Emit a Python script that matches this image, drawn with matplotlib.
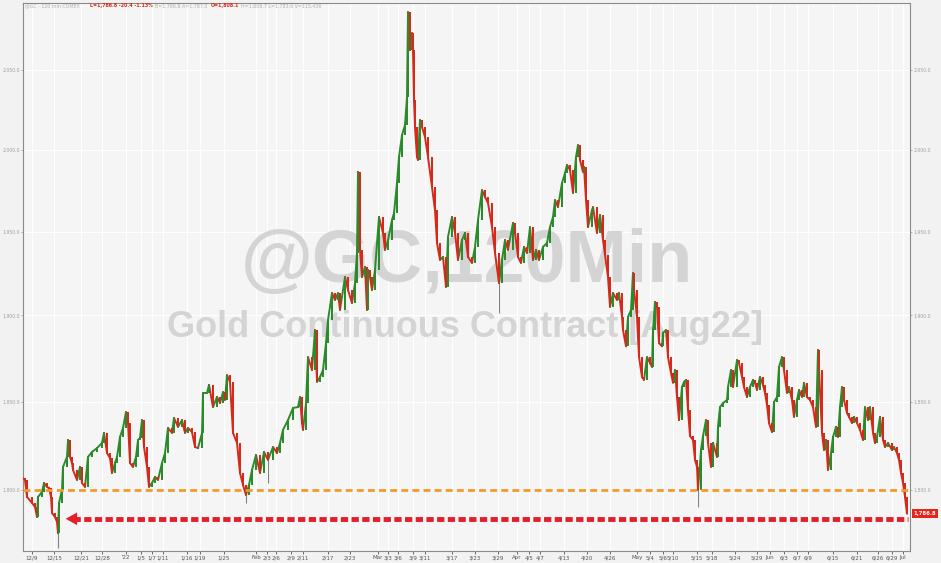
import matplotlib
matplotlib.use("Agg")
import matplotlib.pyplot as plt
from matplotlib.collections import LineCollection
from matplotlib.ticker import FixedLocator, FuncFormatter, NullLocator
import numpy as np

# trading-time position (120-min bars, compressed) and closing prices, Aug22 gold
bars = [
    0, 2, 4, 9, 12, 14, 15, 19, 21, 24, 26, 28, 29, 32, 34, 35, 36, 39, 40, 44,
    45, 47, 49, 50, 54, 57, 59, 62, 65, 69, 74, 79, 81, 84, 87, 89, 92, 94, 97, 100,
    103, 105, 107, 110, 113, 115, 117, 119, 121, 124, 126, 129, 132, 135, 139, 142, 145, 149, 151, 155,
    159, 162, 165, 169, 172, 175, 179, 180, 184, 186, 190, 194, 197, 200, 202, 204, 207, 210, 214, 217,
    220, 223, 226, 229, 233, 237, 241, 245, 250, 254, 257, 260, 265, 270, 275, 277, 279, 280, 283, 285,
    289, 292, 294, 297, 300, 303, 305, 309, 312, 315, 317, 322, 325, 329, 332, 334, 335, 337, 339, 342,
    344, 345, 347, 349, 352, 356, 360, 362, 365, 369, 371, 374, 376, 379, 382, 384, 385, 387, 389, 390,
    391, 392, 394, 395, 397, 399, 402, 405, 409, 412, 414, 417, 420, 423, 425, 429, 432, 435, 439, 442,
    445, 449, 452, 455, 459, 462, 465, 469, 472, 476, 479, 482, 485, 490, 492, 495, 498, 501, 504, 507,
    510, 513, 516, 520, 524, 527, 530, 532, 535, 539, 542, 544, 547, 550, 553, 555, 557, 560, 561, 563,
    565, 569, 570, 574, 577, 580, 582, 585, 587, 590, 594, 596, 599, 600, 603, 605, 608, 610, 611, 614,
    616, 619, 621, 624, 627, 629, 630, 632, 634, 636, 639, 640, 643, 645, 648, 650, 652, 654, 656, 659,
    661, 663, 665, 667, 670, 672, 674, 675, 678, 680, 683, 685, 688, 690, 694, 695, 697, 700, 704, 705,
    708, 710, 714, 716, 719, 721, 724, 727, 730, 732, 734, 737, 740, 742, 744, 746, 749, 751, 754, 756,
    759, 761, 764, 766, 769, 771, 774, 776, 779, 781, 784, 787, 790, 793, 795, 796, 799, 801, 803, 805,
    808, 810, 813, 815, 817, 819, 821, 824, 826, 829, 831, 834, 837, 840, 842, 845, 847, 850, 852, 854,
    857, 860, 862, 865, 869, 871, 874, 876, 878, 880, 882, 884,
]
closes = [
    1806.7, 1805.6, 1796.1, 1792.8, 1790.6, 1785.0, 1796.1, 1798.9, 1803.9, 1801.7,
    1801.1, 1796.1, 1787.2, 1785.0, 1782.3, 1776.1, 1792.8, 1800.0, 1812.9, 1818.5,
    1828.1, 1818.5, 1815.1, 1811.2, 1805.6, 1812.9, 1803.9, 1801.7, 1818.5, 1821.3,
    1823.5, 1826.4, 1832.1, 1820.7, 1817.9, 1809.5, 1815.1, 1818.5, 1829.8, 1834.9,
    1844.0, 1837.7, 1815.1, 1812.9, 1818.5, 1828.1, 1829.2, 1839.4, 1824.1, 1812.9,
    1801.7, 1803.9, 1807.3, 1805.6, 1815.1, 1820.7, 1834.9, 1832.1, 1840.6, 1835.5,
    1839.4, 1832.1, 1834.9, 1832.6, 1824.1, 1823.5, 1832.1, 1854.9, 1854.9, 1859.5,
    1846.8, 1852.6, 1849.1, 1855.4, 1850.9, 1865.2, 1861.2, 1832.1, 1826.4, 1809.5,
    1802.8, 1797.2, 1802.8, 1811.2, 1819.6, 1809.5, 1821.3, 1816.8, 1824.1, 1820.7,
    1826.4, 1833.8, 1839.4, 1846.3, 1846.8, 1852.6, 1837.7, 1833.8, 1849.1, 1875.6,
    1868.1, 1891.4, 1861.3, 1864.1, 1868.1, 1883.8, 1897.3, 1913.2, 1909.1, 1913.2,
    1903.2, 1922.7, 1915.0, 1907.3, 1919.1, 1937.1, 1986.3, 1938.9, 1922.7, 1928.7,
    1903.2, 1926.9, 1922.7, 1915.0, 1926.9, 1958.8, 1949.1, 1938.9, 1944.9, 1957.0,
    1961.2, 1979.5, 1995.5, 2009.1, 2015.4, 2032.9, 2087.1, 2062.7, 2073.6, 2062.7,
    2031.0, 2014.1, 1995.5, 1993.7, 2018.5, 2014.1, 2007.9, 1995.5, 1977.0, 1963.0,
    1943.1, 1932.9, 1934.7, 1916.8, 1946.7, 1958.8, 1949.1, 1932.9, 1944.9, 1949.1,
    1934.7, 1931.1, 1940.7, 1957.0, 1975.2, 1970.9, 1967.3, 1952.7, 1937.1, 1919.1,
    1932.9, 1944.9, 1938.9, 1955.2, 1949.1, 1934.7, 1931.1, 1940.7, 1937.1, 1952.7,
    1932.9, 1938.9, 1932.9, 1940.7, 1943.1, 1952.7, 1958.8, 1969.1, 1964.8, 1979.5,
    1985.6, 1990.6, 1987.5, 1973.4, 1995.5, 2002.9, 1993.7, 1986.3, 1989.4, 1969.1,
    1952.7, 1963.0, 1964.8, 1949.1, 1960.0, 1944.9, 1935.9, 1922.7, 1905.0, 1913.2,
    1909.1, 1913.2, 1899.1, 1891.4, 1881.9, 1899.1, 1903.2, 1925.1, 1915.0, 1899.1,
    1875.6, 1864.1, 1862.4, 1875.6, 1872.2, 1869.9, 1891.4, 1907.9, 1905.0, 1883.8,
    1881.9, 1889.7, 1891.4, 1875.6, 1866.4, 1860.8, 1868.1, 1852.6, 1839.4, 1858.3,
    1861.2, 1862.4, 1845.1, 1830.3, 1828.1, 1816.8, 1812.9, 1800.0, 1822.4, 1830.3,
    1839.4, 1826.4, 1812.9, 1826.4, 1818.5, 1835.5, 1846.8, 1849.1, 1850.9, 1858.3,
    1868.1, 1858.3, 1873.9, 1872.2, 1864.1, 1858.3, 1852.6, 1858.3, 1862.4, 1860.7,
    1856.6, 1864.1, 1859.5, 1854.9, 1848.0, 1837.7, 1832.6, 1849.7, 1852.6, 1869.9,
    1875.6, 1868.1, 1854.9, 1858.3, 1850.9, 1841.2, 1850.9, 1856.6, 1852.6, 1860.7,
    1852.6, 1850.9, 1846.8, 1835.5, 1879.7, 1868.1, 1832.1, 1822.4, 1828.1, 1811.2,
    1820.7, 1829.8, 1835.5, 1829.8, 1846.8, 1858.3, 1850.9, 1843.4, 1841.2, 1837.7,
    1841.2, 1837.7, 1833.8, 1828.1, 1846.8, 1839.4, 1846.8, 1832.1, 1826.4, 1829.8,
    1841.2, 1828.1, 1824.1, 1826.4, 1822.4, 1824.1, 1820.7, 1816.8, 1809.5, 1803.9,
    1796.1, 1786.8,
]
# a few long lower wicks
wick_bars = [35, 223, 245, 476, 675]
wick_lows = [1767.9, 1792.8, 1803.9, 1901.4, 1790.6]

support_level = 1800.0
last_level = 1784.0
last_price = 1786.8

price_ticks = [1800, 1850, 1900, 1950, 2000, 2050]
date_pos = [9, 31, 58, 79, 103, 118, 129, 140, 164, 177, 201, 233, 244, 253, 268, 280,
            305, 327, 355, 365, 375, 390, 402, 429, 452, 475, 494, 506, 517, 541, 564,
            587, 614, 627, 640, 650, 674, 689, 712, 734, 747, 761, 774, 785, 810, 834,
            855, 869, 880]
date_labels = ["12/9", "12/15", "12/21", "12/28", "'22", "1/5", "1/7", "1/11", "1/16",
               "1/19", "1/25", "Feb", "2/3", "2/6", "2/9", "2/11", "2/17", "2/23", "Mar",
               "3/3", "3/6", "3/9", "3/11", "3/17", "3/23", "3/29", "Apr", "4/5", "4/7",
               "4/13", "4/20", "4/26", "May", "5/4", "5/6", "5/10", "5/15", "5/18", "5/24",
               "5/29", "Jun", "6/3", "6/7", "6/9", "6/15", "6/21", "6/26", "6/29", "Jul"]

UP = "#2b8a2b"
DOWN = "#d42a1c"
LABEL = "#a0a0a0"


def main() -> None:
    fig = plt.figure(figsize=(9.41, 5.63), dpi=100, facecolor="#f2f2f2")
    ax = fig.add_axes([23 / 941, 12 / 563, 887 / 941, 548 / 563])
    ax.set_facecolor("#f5f5f5")
    ax.set_yscale("log")

    b = np.array(bars, dtype=float)
    c = np.array(closes)
    o = np.r_[c[0], c[:-1]]
    colors = np.where(c >= o, UP, DOWN)

    ax.vlines(wick_bars, wick_lows, [c[bars.index(w)] for w in wick_bars],
              color="#808080", linewidth=0.8, zorder=3)
    # price path, each move coloured by direction, plus thin candle bodies
    segs = np.stack([np.column_stack([b[:-1], c[:-1]]),
                     np.column_stack([b[1:], c[1:]])], axis=1)
    ax.add_collection(LineCollection(segs, colors=colors[1:], linewidths=1.4, zorder=4,
                                     capstyle="round"))
    ax.bar(b[1:], (c - o)[1:], bottom=o[1:], width=1.1, color=colors[1:], linewidth=0,
           zorder=4)

    # watermark
    ax.text(0.5006, 0.527, "@GC,120Min", transform=ax.transAxes, ha="center",
            va="center", fontsize=53, fontweight="bold", family="Liberation Sans",
            color="#d4d4d4", zorder=1)
    ax.text(0.498, 0.407, "Gold Continuous Contract [Aug22]", transform=ax.transAxes,
            ha="center", va="center", fontsize=26, fontweight="bold",
            family="Liberation Sans", color="#d4d4d4", zorder=1)

    # support line and last-price arrow
    ax.axhline(support_level, color="#f39a2b", linewidth=2.0, dashes=(2.5, 1.5), zorder=5)
    ax.plot([50, 885], [last_level, last_level], color="#e0202a", linewidth=3.5,
            dashes=(1.5, 0.7), zorder=5, solid_capstyle="butt")
    ax.annotate("", xy=(40, last_level), xytext=(52, last_level),
                arrowprops=dict(arrowstyle="-|>,head_length=0.8,head_width=0.45",
                                color="#e0202a", lw=0.1), zorder=5)

    ax.set_xlim(0, 887)
    ax.set_ylim(1766.3, 2093.0)

    ax.yaxis.set_major_locator(FixedLocator(price_ticks))
    ax.yaxis.set_minor_locator(NullLocator())
    ax.yaxis.set_major_formatter(FuncFormatter(lambda v, p: f"{v:,.1f}"))
    ax.tick_params(axis="y", which="both", left=True, right=True, labelleft=True,
                   labelright=True, labelsize=3.3, colors=LABEL, length=1.5, width=0.6,
                   pad=0.8)
    ax.set_xticks(date_pos)
    ax.set_xticklabels(date_labels)
    ax.tick_params(axis="x", labelsize=4, colors="#555555", length=2, width=0.6, pad=1)

    ax.grid(True, axis="both", color="white", linewidth=0.8, zorder=0)
    ax.set_axisbelow(True)
    for side in ["left", "right", "bottom", "top"]:
        ax.spines[side].set_color("#8a8a8a")
        ax.spines[side].set_linewidth(0.8)

    ax.text(1.004, last_price, f"{last_price:,.1f}", transform=ax.get_yaxis_transform(),
            ha="left", va="center", fontsize=3.8, color="white", fontweight="bold",
            bbox=dict(boxstyle="square,pad=0.35", fc="#e8231c", ec="none"),
            clip_on=False, zorder=6)

    # header line
    y = 1 - 6 / 563
    fs = 3.4
    fig.text(25 / 941, y, "@GC - 120 min COMEX", fontsize=fs, color="#b0b0b0", va="center")
    fig.text(90 / 941, y, "L=1,786.8 -20.4 -1.13%", fontsize=fs, color="#d42a1c",
             fontweight="bold", va="center")
    fig.text(155 / 941, y, "B=1,786.8 A=1,787.0", fontsize=fs, color="#b0b0b0", va="center")
    fig.text(211 / 941, y, "O=1,808.1", fontsize=fs, color="#d42a1c", fontweight="bold",
             va="center")
    fig.text(241 / 941, y, "H=1,808.7 L=1,783.6 V=115,436", fontsize=fs, color="#b0b0b0",
             va="center")

    fig.savefig("out.png", dpi=100, facecolor=fig.get_facecolor())
    plt.close(fig)


if __name__ == "__main__":
    main()
